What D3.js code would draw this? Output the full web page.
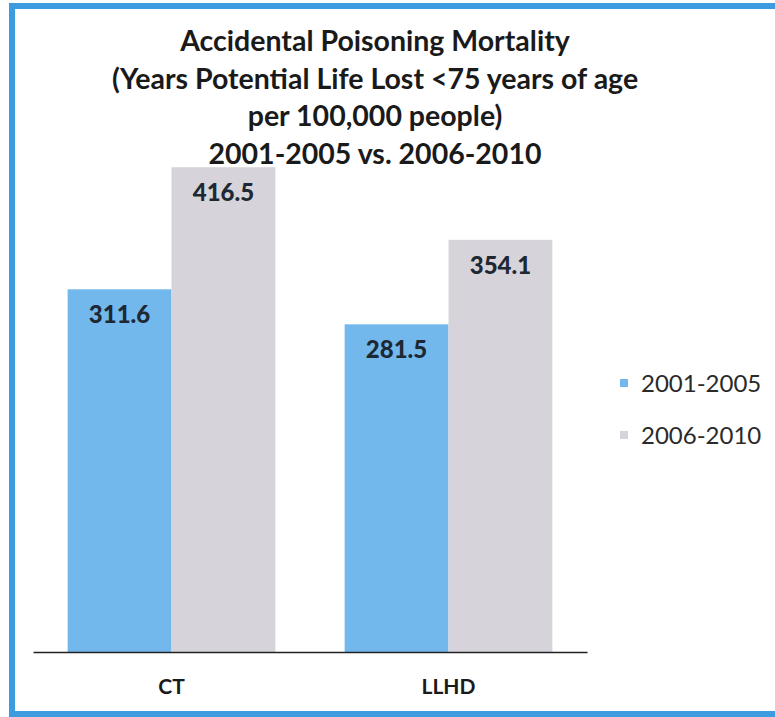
<!DOCTYPE html>
<html>
<head>
<meta charset="utf-8">
<script src="https://cdn.jsdelivr.net/npm/d3@7"></script>
<style>
  html, body { margin: 0; padding: 0; background: #fff; }
  svg { display: block; }
</style>
</head>
<body>
<svg id="chart" width="775" height="717"></svg>
<script>
// Data
const categories = ["CT", "LLHD"];
const seriesNames = ["2001-2005", "2006-2010"];
const values2001_2005 = [311.6, 281.5];
const values2006_2010 = [416.5, 354.1];
const titleLines = [
  "Accidental Poisoning Mortality",
  "(Years Potential Life Lost <75 years of age",
  "per 100,000 people)",
  "2001-2005 vs. 2006-2010"
];

const colors = ["#72b8ec", "#d6d4da"];
const fontFamily = "Lato, 'Open Sans', sans-serif";

const svg = d3.select("#chart");

// Frame
svg.append("rect")
  .attr("x", 12).attr("y", 6)
  .attr("width", 775).attr("height", 708)
  .attr("fill", "#fff")
  .attr("stroke", "#3d9be0")
  .attr("stroke-width", 6);

// Scales
const x0 = d3.scaleBand().domain(categories).range([33, 587])
  .paddingInner(0.25).paddingOuter(0.125);
const x1 = d3.scaleBand().domain(seriesNames).range([0, x0.bandwidth()]);
const y = d3.scaleLinear().domain([0, 500]).range([652, 70]);

const rows = categories.map((c, i) => ({
  category: c,
  values: [values2001_2005[i], values2006_2010[i]]
}));

// Bars
const groups = svg.append("g").selectAll("g").data(rows).join("g")
  .attr("transform", d => `translate(${x0(d.category)},0)`);

groups.selectAll("rect").data(d => d.values.map((v, k) => ({ v, k })))
  .join("rect")
  .attr("x", d => x1(seriesNames[d.k]))
  .attr("y", d => y(d.v))
  .attr("width", x1.bandwidth())
  .attr("height", d => y(0) - y(d.v))
  .attr("fill", d => colors[d.k]);

groups.selectAll("text").data(d => d.values.map((v, k) => ({ v, k })))
  .join("text")
  .attr("x", d => x1(seriesNames[d.k]) + x1.bandwidth() / 2)
  .attr("y", d => y(d.v) + 34)
  .attr("text-anchor", "middle")
  .attr("font-family", fontFamily)
  .attr("font-weight", 900)
  .attr("font-size", 24)
  .attr("fill", "#1e2833")
  .text(d => d.v.toFixed(1));

// Category axis
const xAxis = svg.append("g")
  .attr("transform", `translate(0,${y(0)})`)
  .call(d3.axisBottom(x0).tickSize(0).tickPadding(27));
xAxis.select(".domain").attr("stroke", "#222").attr("stroke-width", 1.6);
xAxis.selectAll("text")
  .attr("font-family", fontFamily)
  .attr("font-weight", "bold")
  .attr("font-size", 21)
  .attr("fill", "#1a1a1a");

// Title
svg.append("text")
  .attr("x", 375).attr("y", 51)
  .attr("text-anchor", "middle")
  .attr("font-family", fontFamily)
  .attr("font-weight", "bold")
  .attr("font-size", 28.5)
  .attr("fill", "#1a1a1a")
  .selectAll("tspan").data(titleLines).join("tspan")
  .attr("x", 375)
  .attr("dy", (d, i) => i === 0 ? 0 : 37.5)
  .text(d => d);

// Legend
const legend = svg.append("g").selectAll("g").data(seriesNames).join("g")
  .attr("transform", (d, i) => `translate(620,${383 + i * 52})`);
legend.append("rect")
  .attr("x", 0).attr("y", -4)
  .attr("width", 8).attr("height", 8)
  .attr("fill", (d, i) => colors[i]);
legend.append("text")
  .attr("x", 21).attr("y", 9)
  .attr("font-family", fontFamily)
  .attr("font-size", 24)
  .attr("fill", "#2a2a2a")
  .text(d => d);
</script>
</body>
</html>
